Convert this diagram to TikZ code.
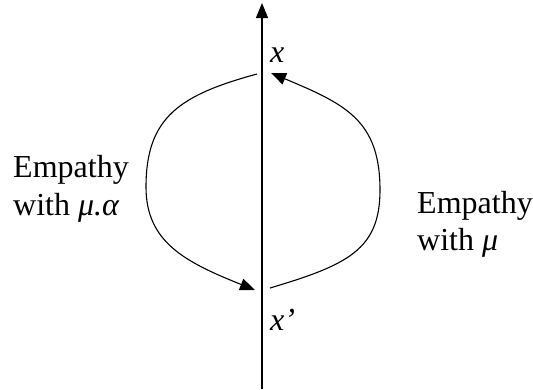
\documentclass[tikz,border=0pt]{standalone}
\usepackage{fontspec}
\setmainfont{Liberation Serif}
\usetikzlibrary{arrows.meta}
\begin{document}
\begin{tikzpicture}[x=1pt,y=-1pt,>={Triangle[length=15pt,width=12pt]},
  every node/.style={inner sep=0pt,font=\fontsize{32}{37}\selectfont},
  lbl/.style={align=left,anchor=base west}]
\useasboundingbox (0,0) rectangle (533,389);
% axis
\coordinate (bot) at (262,389);
\coordinate (top) at (262,3);
\draw[->,line width=1.2pt] (bot) -- (top);
% ends of the two curves and their outer points
\coordinate (L0) at (257,74);
\coordinate (Lm) at (146,187);
\coordinate (L1) at (255,290);
\coordinate (R0) at (270,288);
\coordinate (Rm) at (380,190);
\coordinate (R1) at (271,73);
\draw[->,line width=1.1pt] (L0) .. controls (180,95) and (146,117) .. (Lm)
  .. controls (146,242) and (185,262) .. (L1);
\draw[->,line width=1.1pt] (R0) .. controls (347,265) and (380,250) .. (Rm)
  .. controls (380,120) and (345,104) .. (R1);
% labels
\node[anchor=base west] (x) at (270,62) {\textit{x}};
\node[anchor=base west] (xp) at (270,330) {\textit{x’}};
\node[lbl] (el) at (13,177) {Empathy};
\node[lbl] (wl) at (13,215) {with \textit{μ.α}};
\node[lbl] (er) at (417,213) {Empathy};
\node[lbl] (wr) at (417,250) {with \textit{μ}};
\end{tikzpicture}
\end{document}
